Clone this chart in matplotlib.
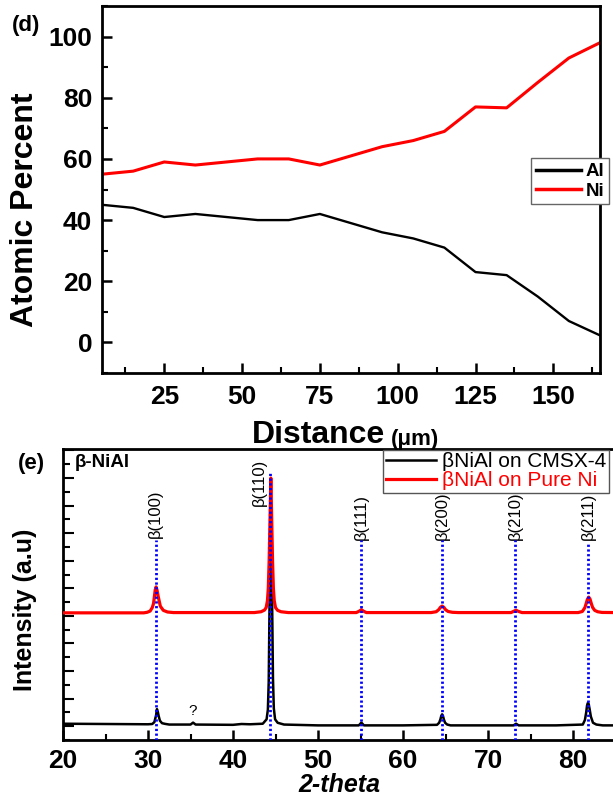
import matplotlib
matplotlib.use("Agg")
import matplotlib.pyplot as plt
from matplotlib.ticker import MultipleLocator, FixedLocator, NullFormatter

plt.rcParams['font.family'] = ['Liberation Sans', 'DejaVu Sans']

# ---------------- data: panel (d) ----------------
distance_um = [5, 15, 25, 35, 45, 55, 65, 75, 85, 95, 105, 115, 125, 135, 145, 155, 165]
al_at_pct = [45, 44, 41, 42, 41, 40, 40, 42, 39, 36, 34, 31, 23, 22, 15, 7, 2.3]
ni_at_pct = [55, 56, 59, 58, 59, 60, 60, 58, 61, 64, 66, 69, 77, 76.7, 85, 93, 98]

# ---------------- data: panel (e) ----------------
cmsx_2theta = [20, 25, 30, 30.5, 30.75, 30.95, 31.05, 31.15, 31.25, 31.4, 31.65, 32.0, 32.5,
               35.0, 35.3, 35.6, 40, 41, 42, 43.5, 43.95, 44.1, 44.2, 44.3, 44.37, 44.45,
               44.53, 44.6, 44.7, 44.8, 44.95, 45.25, 46, 50, 54.8, 55.1, 55.4, 60,
               64.0, 64.25, 64.4, 64.5, 64.6, 64.7, 64.8, 64.95, 65.2, 65.6, 70,
               73.0, 73.3, 73.6, 78, 81.15, 81.4, 81.55, 81.65, 81.75, 81.85, 81.95,
               82.1, 82.35, 82.75, 83.5, 85]
cmsx_counts = [118, 116, 114, 116, 130, 180, 224, 205, 175, 140, 122, 117, 112,
               112, 126, 112, 110, 116, 114, 118, 150, 220, 420, 1000, 1500, 1730,
               1500, 1000, 450, 230, 150, 125, 112, 106, 106, 126, 106, 106,
               110, 125, 150, 175, 186, 175, 150, 125, 112, 106, 106,
               106, 118, 106, 106, 112, 145, 200, 250, 270, 260, 225,
               170, 125, 112, 106, 106]

ni_2theta = [20, 29.5, 29.9, 30.25, 30.5, 30.65, 30.75, 30.85, 30.95, 31.05, 31.2, 31.45,
             31.8, 32.3, 33.0, 42.5, 43.3, 43.7, 43.9, 44.05, 44.15, 44.25, 44.35, 44.45,
             44.55, 44.65, 44.75, 44.85, 45.0, 45.25, 45.65, 46.5, 54.5, 54.85, 55.1,
             55.35, 55.7, 63.3, 63.9, 64.2, 64.4, 64.6, 64.8, 65.0, 65.3, 65.8, 66.5,
             72.7, 73.05, 73.3, 73.55, 74.0, 80.6, 81.1, 81.4, 81.55, 81.7, 81.85,
             82.0, 82.15, 82.3, 82.55, 82.9, 83.4, 85]
ni_counts = [922, 922, 926, 935, 960, 990, 1040, 1090, 1110, 1090, 1040, 970,
             940, 928, 924, 924, 930, 942, 960, 1010, 1100, 1300, 1600, 1899,
             1600, 1300, 1100, 1010, 960, 940, 930, 924, 924, 934, 945,
             934, 924, 924, 930, 945, 962, 971, 962, 945, 932, 926, 924,
             924, 934, 941, 933, 924, 924, 932, 960, 990, 1022, 1036,
             1022, 990, 962, 940, 930, 925, 924]

peak_2theta = [30.9, 44.4, 55.1, 64.6, 73.2, 81.8]
peak_labels = ['β(100)', 'β(110)', 'β(111)', 'β(200)', 'β(210)', 'β(211)']

# ---------------- figure ----------------
fig = plt.figure(figsize=(6.13, 8.0), dpi=100)

# ===== panel (d) =====
ax1 = fig.add_axes([0.1664, 0.53375, 0.8124, 0.45875])
ax1.plot(distance_um, al_at_pct, color='black', lw=1.7, label='Al')
ax1.plot(distance_um, ni_at_pct, color='#ff0000', lw=2.2, label='Ni')
ax1.set_xlim(5, 165)
ax1.set_ylim(-10, 110)
ax1.xaxis.set_major_locator(FixedLocator([25, 50, 75, 100, 125, 150]))
ax1.xaxis.set_minor_locator(FixedLocator([12.5, 37.5, 62.5, 87.5, 112.5, 137.5, 162.5]))
ax1.yaxis.set_major_locator(MultipleLocator(20))
ax1.yaxis.set_minor_locator(MultipleLocator(10))
ax1.tick_params(which='both', direction='in', top=False, right=False)
ax1.tick_params(which='major', length=7, width=1.8, labelsize=19)
ax1.tick_params(which='minor', length=4, width=1.5)
ax1.tick_params(axis='y', which='major', pad=7)
ax1.tick_params(axis='x', which='major', pad=8.5)
for lab in ax1.get_xticklabels() + ax1.get_yticklabels():
    lab.set_fontweight('bold')
for s in ax1.spines.values():
    s.set_linewidth(2)

leg1 = ax1.legend(loc='center left', bbox_to_anchor=(0.862, 0.522), frameon=True,
                  fancybox=False, edgecolor='#666666', framealpha=1,
                  prop={'weight': 'bold', 'size': 13.5}, handlelength=2.4,
                  handletextpad=0.25, borderpad=0.25, labelspacing=0.12,
                  borderaxespad=0)
leg1.get_frame().set_linewidth(1.0)
for ln in leg1.get_lines():
    ln.set_linewidth(2.5)

fig.text(25 / 613, 1 - 210 / 800, 'Atomic Percent', rotation=90, ha='center',
         va='center', fontsize=23, fontweight='bold')
fig.text(26 / 613, 1 - 26 / 800, '(d)', ha='center', va='center', fontsize=16,
         fontweight='bold')
fig.text(385 / 613, 1 - 443 / 800, 'Distance', ha='right', va='baseline',
         fontsize=23, fontweight='bold')
fig.text(391 / 613, 1 - 445 / 800, '(μm)', ha='left', va='baseline',
         fontsize=16, fontweight='bold')

# ===== panel (e) =====
ax2 = fig.add_axes([0.1028, 0.075, 0.9013, 0.36375])
ax2.set_xlim(20, 85)
ax2.set_ylim(0, 2110)

line_tops = [1449, 1942, 1449, 1449, 1449, 1435]
label_bottoms = [1465, 1700, 1450, 1450, 1450, 1450]
label_dx = [0.0, -1.3, 0.0, 0.0, 0.0, 0.0]
for pos, lab, top, lb, dx in zip(peak_2theta, peak_labels, line_tops, label_bottoms, label_dx):
    ax2.plot([pos, pos], [0, top], color='#0000ff', lw=2.0,
             linestyle=(0, (0.8, 0.9)), zorder=4)
    ax2.text(pos + dx, lb, lab, rotation=90, ha='center', va='bottom',
             fontsize=12, color='black')

ax2.plot(cmsx_2theta, cmsx_counts, color='black', lw=1.8, zorder=2,
         label='βNiAl on CMSX-4')
ax2.plot(ni_2theta, ni_counts, color='#ff0000', lw=2.3, zorder=3,
         label='βNiAl on Pure Ni')
ax2.text(35.3, 160, '?', ha='center', va='bottom', fontsize=11)
ax2.text(0.022, 0.955, 'β-NiAl', transform=ax2.transAxes, ha='left', va='center',
         fontsize=13.5, fontweight='bold')

ax2.xaxis.set_major_locator(MultipleLocator(10))
ax2.xaxis.set_minor_locator(MultipleLocator(5))
ax2.yaxis.set_major_locator(MultipleLocator(200, offset=100))
ax2.yaxis.set_minor_locator(MultipleLocator(100))
ax2.yaxis.set_major_formatter(NullFormatter())
ax2.tick_params(which='both', direction='in', top=False, right=False)
ax2.tick_params(axis='x', which='major', length=7, width=1.8, labelsize=19, pad=6.5)
ax2.tick_params(axis='x', which='minor', length=4, width=1.5)
ax2.tick_params(axis='y', which='major', length=8, width=1.5)
ax2.tick_params(axis='y', which='minor', length=5, width=1.5)
for lab in ax2.get_xticklabels():
    lab.set_fontweight('bold')
for s in ax2.spines.values():
    s.set_linewidth(2)

leg2 = ax2.legend(loc='upper right', bbox_to_anchor=(0.988, 0.997), frameon=True,
                  fancybox=False, edgecolor='#555555', framealpha=1,
                  prop={'size': 15}, handlelength=2.4, handletextpad=0.3,
                  borderpad=0.12, labelspacing=0.0, borderaxespad=0,
                  labelcolor='linecolor')
leg2.get_frame().set_linewidth(1.0)

fig.text(25 / 613, 1 - 610 / 800, 'Intensity (a.u)', rotation=90, ha='center',
         va='center', fontsize=18, fontweight='bold')
fig.text(31 / 613, 1 - 463 / 800, '(e)', ha='center', va='center', fontsize=16,
         fontweight='bold')
fig.text(339 / 613, 1 - 785 / 800, '2-theta', ha='center', va='center',
         fontsize=18, fontweight='bold', fontstyle='italic')

fig.savefig('out.png', dpi=100)
